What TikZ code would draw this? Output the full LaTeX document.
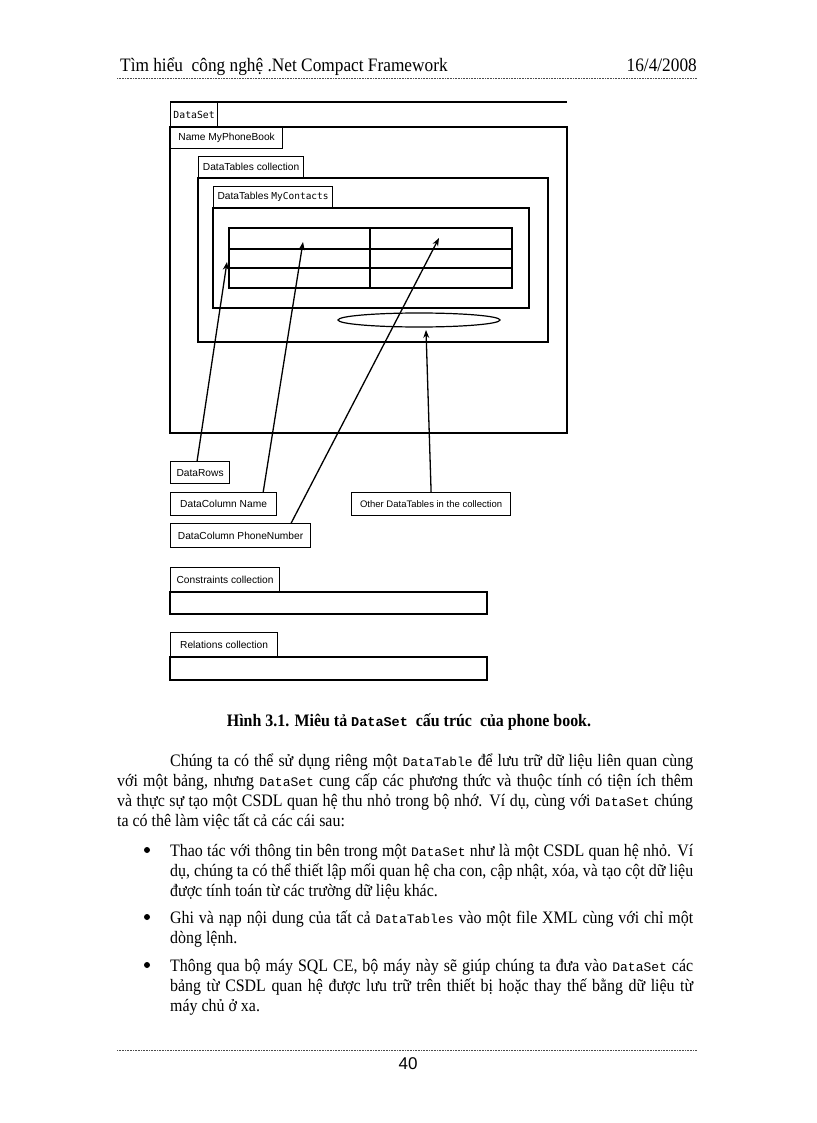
\documentclass[tikz,border=0pt]{standalone}
\usepackage{fontspec}
\setmainfont{Liberation Serif}[FakeStretch=0.91]
\setsansfont{Liberation Sans}
\setmonofont{Liberation Mono}
\newfontfamily\diagmono{DejaVu Sans Mono}
\usetikzlibrary{positioning, arrows.meta, shapes.geometric}

\tikzset{
  tab/.style={draw, line width=1.2pt, minimum height=22pt, inner sep=0pt,
    font=\sffamily\fontsize{10.2}{11}\selectfont},
  labelbox/.style={draw, line width=1.2pt, minimum height=23pt, inner sep=0pt,
    anchor=north west, font=\sffamily\fontsize{10.2}{11}\selectfont},
  pointer/.style={line width=1.3pt, -{Stealth[length=8pt,width=6pt]}},
  bodytext/.style={inner sep=0pt, align=justify, anchor=base west,
    font=\fontsize{17.5}{20.2}\selectfont},
  bulletdot/.style={circle, fill, inner sep=0pt, minimum size=6pt},
  pagerule/.style={densely dotted, line width=0.6pt, black!70}
}
\newcommand\code[1]{{\ttfamily\fontsize{13}{14}\selectfont #1}}

\begin{document}
\begin{tikzpicture}[x=1pt, y=-1pt]
  \useasboundingbox (0,0) rectangle (816,1123);
  \fill[white] (0,0) rectangle (816,1123);

  \node[anchor=base west, inner sep=0pt, font=\fontsize{19}{22}\selectfont] (head) at (120,72)
    {Tìm hiểu\ \ công nghệ .Net\ Compact Framework};
  \node[anchor=base east, inner sep=0pt, font=\fontsize{19}{22}\selectfont] (date) at (697,72) {16/4/2008};
  \draw[pagerule] (117,78) -- (697,78);

  \begin{scope}[line width=1.2pt]
    \draw (170,102) -- (567,102);
    \node[tab, anchor=north west, minimum width=47pt, minimum height=25pt] (dataset) at (170,102)
      {\diagmono\fontsize{9.8}{11}\selectfont DataSet};
    \draw (170,127) rectangle (567,433);
    \node[tab, anchor=north west, minimum width=112pt, minimum height=21pt] (name) at (170,127) {Name MyPhoneBook};

    \draw (198,178) rectangle (548,342);
    \node[tab, anchor=south west, minimum width=105pt, minimum height=21pt] (tables) at (198,178) {DataTables collection};

    \draw (213,208) rectangle (529,308);
    \node[tab, anchor=south west, minimum width=119pt, minimum height=21pt] (contacts) at (213,208)
      {DataTables {\diagmono\fontsize{9.5}{11}\selectfont MyContacts}};

    \draw (229,228) rectangle (512,288);
    \foreach \y in {249,268} \draw (229,\y) -- (512,\y);
    \draw (370,228) -- (370,288);

    \node[ellipse, draw, minimum width=162pt, minimum height=14pt, inner sep=0pt] (others) at (419,320) {};

    \coordinate (rowsTip) at (227,262);
    \coordinate (nameTip) at (303,242);
    \coordinate (phoneTip) at (439,238);
    \coordinate (othersTip) at (426,330);

    \node[labelbox, minimum width=59pt, minimum height=22pt] (rows) at (170,461) {DataRows};
    \node[labelbox, minimum width=106pt] (colname) at (170,492) {DataColumn Name};
    \node[labelbox, minimum width=140pt, minimum height=24pt] (phone) at (170,523) {DataColumn PhoneNumber};
    \node[labelbox, minimum width=159pt, font=\sffamily\fontsize{9.5}{11}\selectfont] (other) at (351,492)
      {Other DataTables in the collection};

    \draw[pointer] ([xshift=-3pt]rows.north) -- (rowsTip);
    \draw[pointer] ([xshift=-14pt]colname.north east) -- (nameTip);
    \draw[pointer] ([xshift=-20pt]phone.north east) -- (phoneTip);
    \draw[pointer] (other.north) -- (othersTip);

    \draw (170,592) rectangle (487,614);
    \node[tab, anchor=south west, minimum width=109pt, minimum height=24pt] (constraints) at (170,592) {Constraints collection};
    \draw (170,657) rectangle (487,680);
    \node[tab, anchor=south west, minimum width=107pt, minimum height=24pt] (relations) at (170,657) {Relations collection};
  \end{scope}

  \node[anchor=base, inner sep=0pt, font=\bfseries\fontsize{17.5}{20}\selectfont] (caption) at (409,726)
    {Hình 3.1. Miêu tả {\ttfamily\fontsize{13.5}{15}\selectfont DataSet}\ \ cấu trúc\ \ của phone book.};

  \node[bodytext, text width=576pt] (para) at (117,766)
    {\tolerance=10000\hspace*{53pt}Chúng ta có thể sử dụng riêng một \code{DataTable} để lưu trữ dữ liệu liên quan cùng\linebreak
     với một bảng, nhưng \code{DataSet} cung cấp các phương thức và thuộc tính có tiện ích thêm\linebreak
     và thực sự tạo một CSDL quan hệ thu nhỏ trong bộ nhớ. Ví dụ, cùng với \code{DataSet} chúng\linebreak
     ta có thê làm việc tất cả các cái sau:};

  \node[bulletdot] (dot1) at (147,850) {};
  \node[bodytext, text width=523pt] (item1) at (170,856)
    {\tolerance=10000 Thao tác với thông tin bên trong một \code{DataSet} như là một CSDL quan hệ nhỏ. Ví\linebreak
     dụ, chúng ta có thể thiết lập mối quan hệ cha con, cập nhật, xóa, và tạo cột dữ liệu\linebreak
     được tính toán từ các trường dữ liệu khác.};
  \node[bulletdot] (dot2) at (147,917) {};
  \node[bodytext, text width=523pt] (item2) at (170,923)
    {\tolerance=10000 Ghi và nạp nội dung của tất cả \code{DataTables} vào một file XML cùng với chỉ một\linebreak
     dòng lệnh.};
  \node[bulletdot] (dot3) at (147,965) {};
  \node[bodytext, text width=523pt] (item3) at (170,971)
    {\tolerance=10000 Thông qua bộ máy SQL CE, bộ máy này sẽ giúp chúng ta đưa vào \code{DataSet} các\linebreak
     bảng từ CSDL quan hệ được lưu trữ trên thiết bị hoặc thay thế bằng dữ liệu từ\linebreak
     máy chủ ở xa.};

  \draw[pagerule] (117,1050) -- (697,1050);
  \node[anchor=base, inner sep=0pt, font=\sffamily\fontsize{17}{20}\selectfont] (pageno) at (408,1069) {40};
\end{tikzpicture}
\end{document}
